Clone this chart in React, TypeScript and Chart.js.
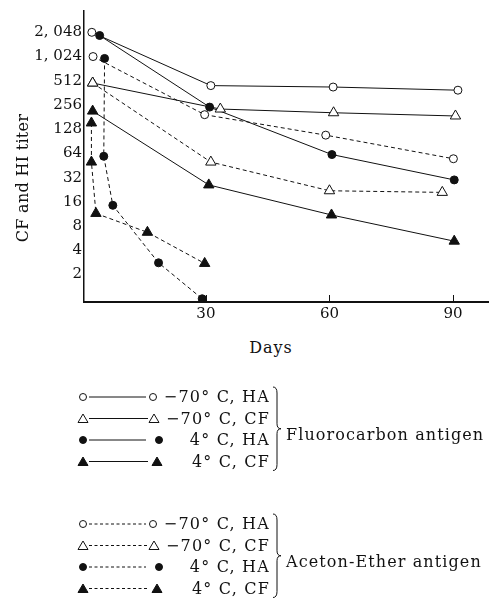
import React, { useEffect, useRef } from 'react';
import { Chart, registerables } from 'chart.js';

Chart.register(...registerables);

// ---- data (days, titers) ----
const X_TICKS = [30, 60, 90];
const Y_TICKS = [2, 4, 8, 16, 32, 64, 128, 256, 512, 1024, 2048];

const DAYS_F_70_HA = [2.3, 31.2, 60.9, 91.2];
const TITER_F_70_HA = [2048, 446, 428, 391];
const DAYS_F_70_CF = [2.5, 33.5, 61, 90.6];
const TITER_F_70_CF = [480, 228, 205, 187];
const DAYS_F_4_HA = [4.2, 30.9, 60.6, 90.3];
const TITER_F_4_HA = [1870, 241, 62, 30];
const DAYS_F_4_CF = [2.5, 30.7, 60.5, 90.3];
const TITER_F_4_CF = [215, 26, 11, 5.2];

const DAYS_A_70_HA = [2.6, 29.7, 59.1, 90.1];
const TITER_A_70_HA = [1024, 194, 108, 55];
const DAYS_A_70_CF = [2.5, 31.2, 60, 87.4];
const TITER_A_70_CF = [480, 50, 22, 21];
const DAYS_A_4_HA = [5.4, 5.2, 7.4, 18.5, 29.1];
const TITER_A_4_HA = [970, 59, 14.5, 2.8, 1.0];
const DAYS_A_4_CF = [2.2, 2.2, 3.3, 15.8, 29.7];
const TITER_A_4_CF = [153, 50, 11.5, 6.7, 2.75];

const LEGEND_LABELS = ['\u221270\u00b0 C, HA', '\u221270\u00b0 C, CF', '4\u00b0 C, HA', '4\u00b0 C, CF'];
const GROUP_LABELS = ['Fluorocarbon antigen', 'Aceton-Ether antigen'];

const INK = '#111';
const FONT = '"DejaVu Serif", serif';

const pts = (xs: number[], ys: number[]) => xs.map((x, i) => ({ x, y: ys[i] }));

type Kind = 'circleOpen' | 'triOpen' | 'circleFill' | 'triFill';

function ds(xs: number[], ys: number[], kind: Kind, dashed: boolean) {
  const isTri = kind === 'triOpen' || kind === 'triFill';
  const filled = kind === 'circleFill' || kind === 'triFill';
  return {
    data: pts(xs, ys),
    borderColor: INK,
    borderWidth: 1,
    borderDash: dashed ? [4, 3] : [],
    pointStyle: isTri ? 'triangle' : 'circle',
    pointRadius: isTri ? 6 : 4,
    pointBackgroundColor: filled ? INK : '#fff',
    pointBorderColor: INK,
    pointBorderWidth: 1,
    tension: 0,
    fill: false,
  };
}

const fmtTiter = (v: number) =>
  v >= 1000 ? `${Math.floor(v / 1000)}, ${String(v % 1000).padStart(3, '0')}` : String(v);

const innerTicks = {
  id: 'innerTicks',
  afterDraw(chart: any) {
    const ctx = chart.ctx;
    const xs = chart.scales.x;
    const bottom = chart.chartArea.bottom;
    ctx.save();
    ctx.strokeStyle = INK;
    ctx.lineWidth = 1;
    X_TICKS.forEach((t) => {
      const px = Math.round(xs.getPixelForValue(t)) + 0.5;
      ctx.beginPath();
      ctx.moveTo(px, bottom);
      ctx.lineTo(px, bottom - 7);
      ctx.stroke();
    });
    ctx.restore();
  },
};

function ChartCanvas() {
  const ref = useRef<HTMLCanvasElement | null>(null);
  useEffect(() => {
    if (!ref.current) return;
    const chart = new Chart(ref.current, {
      type: 'line',
      data: {
        datasets: [
          ds(DAYS_A_70_HA, TITER_A_70_HA, 'circleOpen', true),
          ds(DAYS_A_70_CF, TITER_A_70_CF, 'triOpen', true),
          ds(DAYS_A_4_HA, TITER_A_4_HA, 'circleFill', true),
          ds(DAYS_A_4_CF, TITER_A_4_CF, 'triFill', true),
          ds(DAYS_F_70_HA, TITER_F_70_HA, 'circleOpen', false),
          ds(DAYS_F_70_CF, TITER_F_70_CF, 'triOpen', false),
          ds(DAYS_F_4_HA, TITER_F_4_HA, 'circleFill', false),
          ds(DAYS_F_4_CF, TITER_F_4_CF, 'triFill', false),
        ] as any,
      },
      options: {
        animation: false,
        responsive: false,
        devicePixelRatio: 1,
        layout: { padding: { top: 5, right: 3, left: 0, bottom: 0 } },
        plugins: { legend: { display: false }, tooltip: { enabled: false } },
        scales: {
          x: {
            type: 'linear',
            min: 0.4,
            max: 98.5,
            afterBuildTicks: (s: any) => {
              s.ticks = X_TICKS.map((v) => ({ value: v }));
            },
            afterFit: (s: any) => {
              s.height = 28;
            },
            grid: { display: false, drawTicks: false },
            border: { display: true, color: INK, width: 2 },
            ticks: {
              color: INK,
              padding: 3,
              maxRotation: 0,
              font: { family: FONT, size: 15 },
              callback: (v: any) => String(v),
            },
          },
          y: {
            type: 'logarithmic',
            min: 0.912,
            max: 3770,
            afterBuildTicks: (s: any) => {
              s.ticks = Y_TICKS.map((v) => ({ value: v }));
            },
            afterFit: (s: any) => {
              s.width = 84;
            },
            grid: { display: false, drawTicks: false },
            border: { display: true, color: INK, width: 1.5 },
            ticks: {
              color: INK,
              padding: 2,
              font: { family: FONT, size: 15 },
              callback: (v: any) => fmtTiter(Number(v)),
            },
          },
        },
      } as any,
      plugins: [innerTicks],
    });
    return () => chart.destroy();
  }, []);
  return <canvas ref={ref} width={495} height={330} style={{ display: 'block' }} />;
}

const GROUP_ROWS = [
  [397, 418.5, 440, 461.5],
  [524, 545.5, 567, 588.5],
];
const KINDS: Kind[] = ['circleOpen', 'triOpen', 'circleFill', 'triFill'];

function Marker({ kind, x, y }: { kind: Kind; x: number; y: number }) {
  const filled = kind === 'circleFill' || kind === 'triFill';
  const fill = filled ? INK : '#fff';
  if (kind === 'circleOpen' || kind === 'circleFill') {
    return <circle cx={x} cy={y} r={3.5} fill={fill} stroke={INK} strokeWidth={1} />;
  }
  const h = 8;
  const w = 10;
  return (
    <polygon
      points={`${x},${y - h / 2 - 0.5} ${x - w / 2},${y + h / 2} ${x + w / 2},${y + h / 2}`}
      fill={fill}
      stroke={INK}
      strokeWidth={1}
    />
  );
}

function brace(x0: number, y1: number, y2: number) {
  const ym = (y1 + y2) / 2;
  return `M ${x0} ${y1} Q ${x0 + 4} ${y1} ${x0 + 4} ${y1 + 6} L ${x0 + 4} ${ym - 5} Q ${x0 + 4} ${ym} ${x0 + 8} ${ym} Q ${x0 + 4} ${ym} ${x0 + 4} ${ym + 5} L ${x0 + 4} ${y2 - 6} Q ${x0 + 4} ${y2} ${x0} ${y2}`;
}

export default function App() {
  const rightX = [153, 154, 159, 157];
  const lineEnd = [146, 148, 146, 148];
  return (
    <div
      style={{
        position: 'fixed',
        left: 0,
        top: 0,
        width: 495,
        height: 604,
        background: '#fff',
        fontFamily: FONT,
        color: INK,
        overflow: 'hidden',
      }}
    >
      <div style={{ position: 'absolute', left: 0, top: 0 }}>
        <ChartCanvas />
      </div>
      <div
        style={{
          position: 'absolute',
          left: 23,
          top: 178,
          transform: 'translate(-50%, -50%) rotate(-90deg)',
          whiteSpace: 'nowrap',
          fontSize: 16,
          lineHeight: '1',
          letterSpacing: '0.3px',
        }}
      >
        CF and HI titer
      </div>
      <div
        style={{
          position: 'absolute',
          left: 271,
          top: 348,
          transform: 'translate(-50%, -50%)',
          whiteSpace: 'nowrap',
          fontSize: 16,
          lineHeight: '1',
          letterSpacing: '1px',
        }}
      >
        Days
      </div>
      <svg width={495} height={604} style={{ position: 'absolute', left: 0, top: 0 }}>
        {GROUP_ROWS.map((rows, g) => (
          <g key={g}>
            {rows.map((y, i) => (
              <g key={i}>
                <line
                  x1={89}
                  y1={y}
                  x2={lineEnd[i]}
                  y2={y}
                  stroke={INK}
                  strokeWidth={1}
                  strokeDasharray={g === 1 ? '3 2.5' : undefined}
                />
                <Marker kind={KINDS[i]} x={83} y={y} />
                <Marker kind={KINDS[i]} x={rightX[i]} y={y} />
              </g>
            ))}
            <path
              d={brace(273, rows[0] - 10, rows[3] + 9)}
              fill="none"
              stroke={INK}
              strokeWidth={1}
            />
          </g>
        ))}
      </svg>
      {GROUP_ROWS.map((rows, g) => (
        <React.Fragment key={g}>
          {rows.map((y, i) => (
            <div
              key={i}
              style={{
                position: 'absolute',
                right: 495 - 270,
                top: y,
                transform: 'translateY(-50%)',
                whiteSpace: 'nowrap',
                fontSize: 16,
                lineHeight: '1',
                letterSpacing: '1.2px',
              }}
            >
              {LEGEND_LABELS[i]}
            </div>
          ))}
          <div
            style={{
              position: 'absolute',
              left: 286,
              top: (rows[0] + rows[3]) / 2 + 6,
              transform: 'translateY(-50%)',
              whiteSpace: 'nowrap',
              fontSize: 16,
              lineHeight: '1',
              letterSpacing: '1.1px',
            }}
          >
            {GROUP_LABELS[g]}
          </div>
        </React.Fragment>
      ))}
    </div>
  );
}
